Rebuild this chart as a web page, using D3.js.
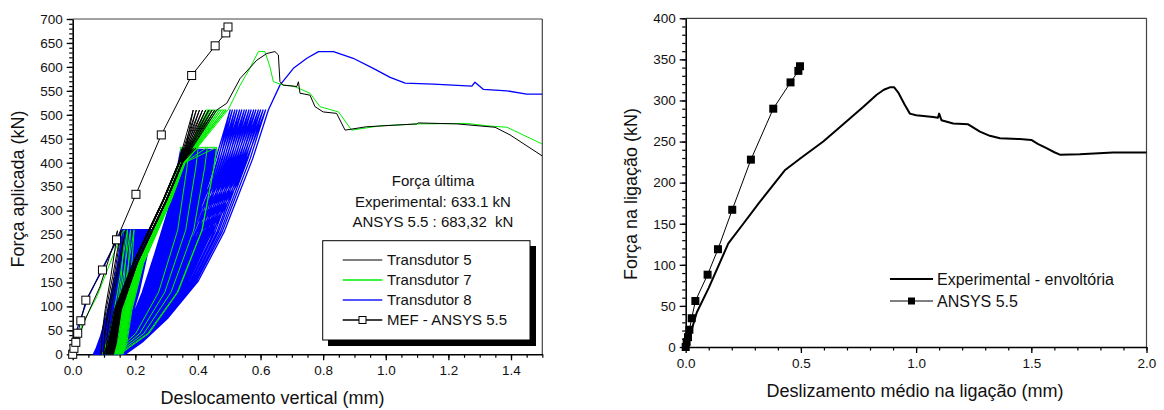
<!DOCTYPE html>
<html><head><meta charset="utf-8">
<script src="https://cdn.jsdelivr.net/npm/d3@7"></script>
<style>
html,body{margin:0;padding:0;background:#fff;}
svg{display:block;font-family:"Liberation Sans",Arial,sans-serif;}
</style></head>
<body>
<svg id="c" width="1164" height="410"></svg>
<script>
// ---------------- LEFT CHART DATA ----------------
const leftXTicks = [0,0.2,0.4,0.6,0.8,1.0,1.2,1.4];
const leftYTicks = [0,50,100,150,200,250,300,350,400,450,500,550,600,650,700];

// Transdutor 8 (blue)
const t8Loads = [260, 428, 510];
const t8Hold = [true, true, false];
const t8LoadMode = ["s","s","s"];
const t8UnloadMode = ["s","s","s"];
const t8InitX = [0, 0.013, 0.05, 0.098, 0.146, 0.157];
const t8InitF = [0, 51, 120, 183, 245, 260];
const t8Peaks = [
  [0.157,0.160,0.162,0.165,0.168,0.170,0.173,0.176,0.178,0.181,0.184,0.187,0.189,0.192,0.195,0.197,0.200,0.203,0.205,0.208,0.211,0.214,0.216,0.219,0.222,0.224,0.227,0.230,0.233,0.235,0.238,0.241,0.244,0.246,0.249,0.252],
  [0.345,0.349,0.353,0.357,0.361,0.365,0.369,0.373,0.377,0.381,0.385,0.389,0.393,0.397,0.401,0.405,0.409,0.413,0.417,0.421,0.425,0.429,0.433,0.437,0.441,0.445,0.449,0.453,0.457,0.460],
  [0.503,0.510,0.518,0.525,0.533,0.540,0.548,0.555,0.563,0.570,0.578,0.585,0.593,0.600,0.608,0.616]];
const t8Valleys = [
  [0.066,0.068,0.069,0.071,0.073,0.074,0.076,0.078,0.080,0.081,0.083,0.085,0.086,0.088,0.090,0.091,0.093,0.095,0.096,0.098,0.100,0.101,0.103,0.105,0.106,0.108,0.110,0.111,0.113,0.115,0.116,0.118,0.120,0.121,0.123,0.125],
  [0.126,0.127,0.128,0.129,0.131,0.132,0.133,0.134,0.135,0.137,0.138,0.139,0.140,0.141,0.143,0.144,0.145,0.146,0.147,0.148,0.149,0.150,0.151,0.152,0.153,0.154,0.155,0.156,0.157,0.158],
  [0.159,0.160,0.160,0.161,0.162,0.162,0.163,0.163,0.164,0.165,0.165,0.166,0.166,0.167,0.167,0.168]];
const t8EnvX = [0.625,0.662,0.705,0.748,0.785,0.833,0.896,0.96,1.014,1.062,1.152,1.275,1.285,1.312,1.387,1.45,1.5];
const t8EnvF = [510,562,597,618,632,632,618,597,578,566,564,560,568,553,550,543,543];
const t8LoadF = [0,0.05,0.15,0.3,0.5,0.65,0.8,1];
const t8LoadX = [0,0.12,0.3,0.51,0.69,0.79,0.89,1];
const t8UnloadF = [1,0.85,0.7,0.5,0.3,0.15,0.05,0];
const t8UnloadX = [1,0.9,0.8,0.62,0.43,0.25,0.1,0];
const t8AbsF = [], t8BbLX = [], t8BbUX = [], t8Wt = [], t8VRef = 0;

// Transdutor 5 (black)
const t5Loads = [258, 430, 510];
const t5Hold = [false, false, false];
const t5LoadMode = ["s","a","a"];
const t5UnloadMode = ["s","a","a"];
const t5InitX = [0, 0.01, 0.039, 0.087, 0.135, 0.143];
const t5InitF = [0, 20, 71, 141, 239, 258];
const t5Peaks = [
  [0.143,0.155,0.168],
  [0.350,0.356,0.362,0.368,0.374,0.380,0.386,0.393],
  [0.385,0.395,0.405,0.415,0.425,0.435,0.445,0.454]];
const t5Valleys = [
  [0.090,0.098,0.106],
  [0.108,0.112,0.115,0.118,0.121,0.124,0.126,0.128],
  [0.100,0.106,0.111,0.115,0.119,0.123,0.127,0.130]];
const t5EnvX = [0.46,0.492,0.535,0.588,0.62,0.646,0.657,0.662,0.672,0.716,0.721,0.726,0.758,0.774,0.8,0.843,0.87,0.938,1.099,1.104,1.227,1.349,1.397,1.5];
const t5EnvF = [510,524,576,614,628,632,625,569,562,559,569,545,541,517,506,503,468,475,481,483,481,474,458,414];
const t5LoadF = [0,0.04,0.18,0.37,0.63,0.85,1];
const t5LoadX = [0,0.03,0.07,0.27,0.58,0.82,1];
const t5UnloadF = [1,0.85,0.63,0.37,0.18,0.04,0];
const t5UnloadX = [1,0.85,0.6,0.27,0.08,0.03,0];
const t5AbsF = [0,20,92,190,322,400];
const t5BbLX = [0.12,0.13,0.15,0.205,0.3,0.35];
const t5BbUX = [0.12,0.126,0.142,0.195,0.29,0.34];
const t5Wt = [1,0.85,0.5,0.15,0.1,0.1];
const t5VRef = 0.12;

// Transdutor 7 (green)
const t7Loads = [260, 432, 510];
const t7Hold = [false, true, true];
const t7LoadMode = ["s","a","a"];
const t7UnloadMode = ["s","s","a"];
const t7InitX = [0, 0.029, 0.077, 0.157, 0.165];
const t7InitF = [0, 61, 120, 253, 260];
const t7Peaks = [
  [0.165,0.175,0.185,0.196],
  [0.343,0.372,0.401,0.430,0.460],
  [0.425,0.432,0.439,0.446,0.453,0.461,0.468,0.475,0.483,0.490]];
const t7Valleys = [
  [0.095,0.105,0.115,0.124],
  [0.128,0.134,0.140,0.145,0.150],
  [0.110,0.118,0.125,0.131,0.137,0.142,0.147,0.152,0.156,0.160]];
const t7EnvX = [0.497,0.535,0.566,0.593,0.614,0.63,0.641,0.672,0.705,0.758,0.79,0.849,0.891,0.982,1.11,1.259,1.323,1.387,1.5];
const t7EnvF = [511,562,597,632,632,600,569,562,560,545,517,506,468,477,481,482,477,474,439];
const t7LoadF = [0,0.05,0.15,0.3,0.5,0.7,1];
const t7LoadX = [0,0.1,0.25,0.42,0.6,0.76,1];
const t7UnloadF = [1,0.9,0.6,0.3,0.1,0];
const t7UnloadX = [1,0.97,0.85,0.6,0.3,0];
const t7AbsF = [0,20,92,190,322,400];
const t7BbLX = [0.145,0.16,0.18,0.222,0.312,0.357];
const t7BbUX = [0.145,0.155,0.172,0.214,0.304,0.35];
const t7Wt = [1,0.8,0.6,0.3,0.2,0.15];
const t7VRef = 0.145;

// MEF - ANSYS 5.5
const mefX = [0,0.004,0.01,0.016,0.026,0.042,0.095,0.14,0.202,0.283,0.38,0.455,0.489,0.496];
const mefF = [0,12.5,25,44,70,113,176,239,334,458,582,644,671,683.32];

const leftLegend = ["Transdutor 5","Transdutor 7","Transdutor 8","MEF - ANSYS 5.5"];
const annotLines = ["Força última","Experimental: 633.1 kN","ANSYS 5.5 : 683,32  kN"];

// ---------------- RIGHT CHART DATA ----------------
const rightXTicks = [0,0.5,1.0,1.5,2.0];
const rightYTicks = [0,50,100,150,200,250,300,350,400];
const expX = [0,0.01,0.03,0.048,0.1,0.185,0.25,0.32,0.43,0.5,0.597,0.7,0.77,0.829,0.86,0.886,0.905,0.922,0.95,0.973,1.0,1.074,1.095,1.1,1.11,1.161,1.226,1.277,1.32,1.364,1.45,1.5,1.53,1.566,1.6,1.624,1.71,1.855,2.0];
const expF = [0,10,25,42,72,126,150,176,215,230,250,275,292,307,313,316,316,310,295,284,282,280,279,284,276,272,271,262,257,254,253,252,247,242,237,234,234.6,236.7,236.7];
const ansX = [0,0.004,0.01,0.016,0.026,0.042,0.095,0.14,0.202,0.283,0.38,0.455,0.489,0.496];
const ansF = [0,6,12,21,35,56,88,119,167,228,290,322,336,341.66];
const rightLegend = ["Experimental - envoltória","ANSYS 5.5"];

// ---------------- DRAWING ----------------
const svg = d3.select("#c");
const FONT = '"Liberation Sans",Arial,sans-serif';

const xL = d3.scaleLinear().domain([0,1.5]).range([72.7,542.3]);
const yL = d3.scaleLinear().domain([0,700]).range([354.3,19]);
const xR = d3.scaleLinear().domain([0,2]).range([685.7,1146.5]);
const yR = d3.scaleLinear().domain([0,400]).range([347,18.3]);

function drawAxes(x, y, xTicks, yTicks, xMinorStep, yMinorStep, xFmt, xTitle, yTitle, xTitlePos, yTitlePos){
  const [x0,x1] = x.range(), [y0,y1] = y.range();
  const xd = x.domain(), yd = y.domain();
  const xMinor = d3.range(Math.round((xd[1]-xd[0])/xMinorStep)+1).map(i=>+(xd[0]+i*xMinorStep).toFixed(4));
  const yMinor = d3.range(Math.round((yd[1]-yd[0])/yMinorStep)+1).map(i=>yd[0]+i*yMinorStep);
  svg.append("line").attr("x1",x0).attr("x2",x1).attr("y1",y1).attr("y2",y1).attr("stroke","#444").attr("stroke-width",1.2);
  svg.append("line").attr("x1",x1).attr("x2",x1).attr("y1",y1).attr("y2",y0).attr("stroke","#444").attr("stroke-width",1.2);
  svg.append("g").attr("transform",`translate(0,${y0})`)
    .call(d3.axisBottom(x).tickValues(xMinor).tickSize(3.5).tickFormat(""))
    .call(g=>g.select(".domain").remove()).selectAll("line").attr("stroke","#000").attr("stroke-width",1.2);
  svg.append("g").attr("transform",`translate(${x0},0)`)
    .call(d3.axisLeft(y).tickValues(yMinor).tickSize(3.5).tickFormat(""))
    .call(g=>g.select(".domain").remove()).selectAll("line").attr("stroke","#000").attr("stroke-width",1.2);
  const gx = svg.append("g").attr("transform",`translate(0,${y0})`)
    .call(d3.axisBottom(x).tickValues(xTicks).tickSize(6).tickSizeOuter(0).tickPadding(5).tickFormat(xFmt));
  gx.select(".domain").attr("stroke","#000").attr("stroke-width",1.6);
  gx.selectAll("line").attr("stroke","#000").attr("stroke-width",1.3);
  gx.selectAll("text").attr("font-family",FONT).attr("font-size",13.5).attr("fill","#111");
  const gy = svg.append("g").attr("transform",`translate(${x0},0)`)
    .call(d3.axisLeft(y).tickValues(yTicks).tickSize(6).tickSizeOuter(0).tickPadding(4).tickFormat(d3.format("d")));
  gy.select(".domain").attr("stroke","#000").attr("stroke-width",1.6);
  gy.selectAll("line").attr("stroke","#000").attr("stroke-width",1.3);
  gy.selectAll("text").attr("font-family",FONT).attr("font-size",13.5).attr("fill","#111");
  svg.append("text").attr("x",xTitlePos[0]).attr("y",xTitlePos[1]).attr("text-anchor","middle")
    .attr("font-size",18).attr("fill","#111").text(xTitle);
  svg.append("text").attr("transform",`translate(${yTitlePos[0]},${yTitlePos[1]}) rotate(-90)`)
    .attr("text-anchor","middle").attr("font-size",18).attr("fill","#111").text(yTitle);
}

drawAxes(xL,yL,leftXTicks,leftYTicks,0.05,10,d3.format(".1f"),"Deslocamento vertical (mm)","Força aplicada (kN)",[272.5,404],[24,189]);
drawAxes(xR,yR,rightXTicks,rightYTicks,0.1,10,d3.format(".1f"),"Deslizamento médio na ligação (mm)","Força na ligação (kN)",[915,397],[637,194]);

// cyclic curve builder: loops between force 0 (valleys) and the group load (peaks)
function loadBranch(T, mode, xv, xp, fp, pts){
  if(mode==="a"){
    T.absF.forEach((f,k)=>{ if(k>0 && f<fp) pts.push([T.bbLX[k] + T.wt[k]*(xv - T.vRef), f]); });
    pts.push([xp, fp]);
  } else {
    T.LF.forEach((f,k)=>{ if(k>0) pts.push([xv + T.LX[k]*(xp-xv), f*fp]); });
  }
}
function unloadBranch(T, mode, xTop, xv, fp, pts){
  if(mode==="a"){
    for(let k=T.absF.length-1;k>=0;k--){ if(T.absF[k]<fp) pts.push([T.bbUX[k] + T.wt[k]*(xv - T.vRef), T.absF[k]]); }
  } else {
    T.UF.forEach((f,k)=>{ if(k>0) pts.push([xv + T.UX[k]*(xTop-xv), f*fp]); });
  }
}
function buildCycles(T){
  const pts = T.initX.map((x,i)=>[x, T.initF[i]]);
  let lastValley = null, lastMode = "s";
  T.peaks.forEach((grp,g)=>{
    const fp = T.loads[g];
    grp.forEach((xp,i)=>{
      if(lastValley!==null) loadBranch(T, T.loadMode[g], lastValley, xp, fp, pts);
      let xTop = xp;
      if(T.hold[g] && i < grp.length-1){ xTop = grp[i+1]; pts.push([xTop, fp]); }
      const xv = T.valleys[g][i];
      unloadBranch(T, T.unloadMode[g], xTop, xv, fp, pts);
      lastValley = xv; lastMode = T.loadMode[g];
    });
  });
  loadBranch(T, lastMode, lastValley, T.envX[0], T.envF[0], pts);
  T.envX.forEach((x,i)=>{ if(i>0) pts.push([x, T.envF[i]]); });
  return pts;
}

const lineL = d3.line().x(d=>xL(d[0])).y(d=>yL(d[1]));
svg.append("clipPath").attr("id","clipL").append("rect").attr("x",xL(0)-6).attr("y",yL(700)-6).attr("width",xL(1.5)-xL(0)+6).attr("height",yL(0)-yL(700)+7);
const plotL = svg.append("g").attr("clip-path","url(#clipL)");

const series = [
  {color:"#0000ff", w:1.3, initX:t8InitX, initF:t8InitF, loads:t8Loads, hold:t8Hold, loadMode:t8LoadMode, unloadMode:t8UnloadMode, peaks:t8Peaks, valleys:t8Valleys, envX:t8EnvX, envF:t8EnvF, LF:t8LoadF, LX:t8LoadX, UF:t8UnloadF, UX:t8UnloadX, absF:t8AbsF, bbLX:t8BbLX, bbUX:t8BbUX, wt:t8Wt, vRef:t8VRef},
  {color:"#00ee00", w:1, initX:t7InitX, initF:t7InitF, loads:t7Loads, hold:t7Hold, loadMode:t7LoadMode, unloadMode:t7UnloadMode, peaks:t7Peaks, valleys:t7Valleys, envX:t7EnvX, envF:t7EnvF, LF:t7LoadF, LX:t7LoadX, UF:t7UnloadF, UX:t7UnloadX, absF:t7AbsF, bbLX:t7BbLX, bbUX:t7BbUX, wt:t7Wt, vRef:t7VRef},
  {color:"#000000", w:1, initX:t5InitX, initF:t5InitF, loads:t5Loads, hold:t5Hold, loadMode:t5LoadMode, unloadMode:t5UnloadMode, peaks:t5Peaks, valleys:t5Valleys, envX:t5EnvX, envF:t5EnvF, LF:t5LoadF, LX:t5LoadX, UF:t5UnloadF, UX:t5UnloadX, absF:t5AbsF, bbLX:t5BbLX, bbUX:t5BbUX, wt:t5Wt, vRef:t5VRef}
];
series.forEach(T=>{
  plotL.append("path").attr("d",lineL(buildCycles(T))).attr("fill","none")
    .attr("stroke",T.color).attr("stroke-width",T.w).attr("stroke-linejoin","round");
});

const mefPts = mefX.map((x,i)=>[x,mefF[i]]);
svg.append("path").attr("d",lineL(mefPts)).attr("fill","none").attr("stroke","#000").attr("stroke-width",1);
svg.append("g").selectAll("rect").data(mefPts).join("rect")
  .attr("x",d=>xL(d[0])-4).attr("y",d=>yL(d[1])-4).attr("width",8).attr("height",8)
  .attr("fill","#fff").attr("stroke","#000").attr("stroke-width",1);

annotLines.forEach((t,i)=>{
  svg.append("text").attr("x",433).attr("y",186+i*20.5).attr("text-anchor","middle")
    .attr("font-size",15).attr("fill","#111").style("white-space","pre").text(t);
});

svg.append("rect").attr("x",328).attr("y",246).attr("width",208).attr("height",100).attr("fill","#000");
svg.append("rect").attr("x",322.7).attr("y",240.7).attr("width",207.3).attr("height",99.3).attr("fill","#fff").attr("stroke","#000").attr("stroke-width",1);
const legCols = ["#555","#00ee00","#5555ff","#000"];
leftLegend.forEach((t,i)=>{
  const yy = 260 + i*20;
  svg.append("line").attr("x1",342.7).attr("x2",382.3).attr("y1",yy).attr("y2",yy).attr("stroke",legCols[i]).attr("stroke-width",i===2?2:1.3);
  if(i===3) svg.append("rect").attr("x",359).attr("y",yy-3.5).attr("width",7).attr("height",7).attr("fill","#fff").attr("stroke","#000");
  svg.append("text").attr("x",387).attr("y",yy+5.3).attr("font-size",15).attr("fill","#111").text(t);
});

const lineR = d3.line().x(d=>xR(d[0])).y(d=>yR(d[1]));
const expPts = expX.map((x,i)=>[x,expF[i]]);
svg.append("path").attr("d",lineR(expPts)).attr("fill","none").attr("stroke","#000").attr("stroke-width",2).attr("stroke-linejoin","round");
const ansPts = ansX.map((x,i)=>[x,ansF[i]]);
svg.append("path").attr("d",lineR(ansPts)).attr("fill","none").attr("stroke","#000").attr("stroke-width",1);
svg.append("g").selectAll("rect").data(ansPts).join("rect")
  .attr("x",d=>xR(d[0])-4).attr("y",d=>yR(d[1])-4).attr("width",8).attr("height",8).attr("fill","#000");

rightLegend.forEach((t,i)=>{
  const yy = 279 + i*22;
  svg.append("line").attr("x1",890).attr("x2",933).attr("y1",yy).attr("y2",yy).attr("stroke","#000").attr("stroke-width",i===0?2:1);
  if(i===1) svg.append("rect").attr("x",908).attr("y",yy-3.5).attr("width",7).attr("height",7).attr("fill","#000");
  svg.append("text").attr("x",937).attr("y",yy+5.5).attr("font-size",16).attr("fill","#111").text(t);
});
</script>
</body></html>
